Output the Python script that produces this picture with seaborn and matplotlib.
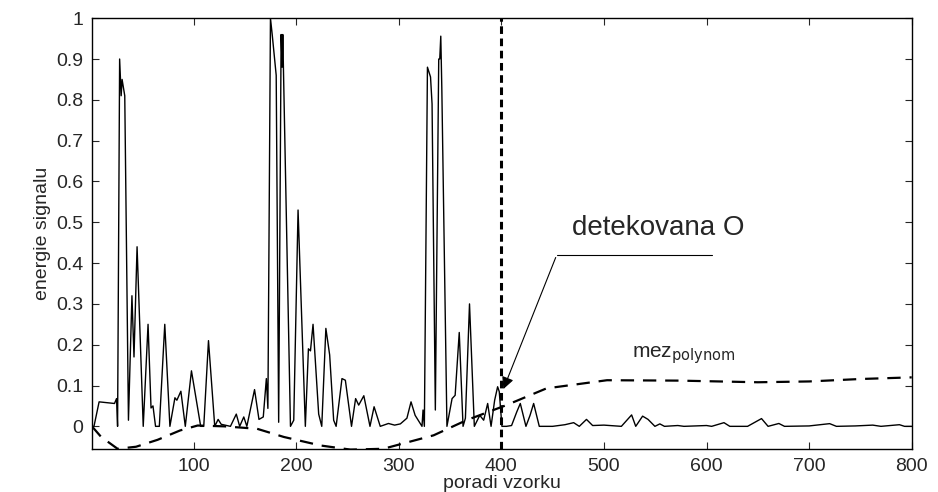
import numpy as np
import pandas as pd
import matplotlib
matplotlib.use("Agg")
import matplotlib.pyplot as plt
import seaborn as sns

# signal energy (sample index, value)
sig_x = [1, 3, 8, 23, 25, 26, 28, 29.5, 30.4, 33, 36.6, 40, 42, 45, 51, 55.7, 58.6, 60.5, 63, 66.7,
         72, 77, 81.9, 83.8, 87.7, 92, 98, 103, 107, 110, 114.6, 120.7, 124, 127, 136, 141.7, 145,
         149, 152, 159.5, 163.8, 168, 171, 172.5, 175, 176.7, 180.6, 183, 185.4, 186.4, 187, 191,
         194.5, 197.7, 201.9, 209, 212, 214, 216.5, 222, 225, 229, 232.7, 236.6, 239, 244.7, 248,
         254, 258, 261, 266, 272, 276, 282, 290, 296, 301.6, 308, 312, 316, 322.7, 323.7, 325, 328,
         331, 332.5, 335.7, 339, 340, 341, 342, 347, 352, 355, 359, 362.7, 365, 369, 373.7, 379,
         382.8, 386.7, 390, 393.5, 396.4, 398, 400.6, 405, 410, 415, 418.5, 424, 428, 431.5, 437,
         450, 462, 470.5, 476, 483, 489, 500, 517, 527, 531, 537.7, 543, 549.7, 554.5, 559, 572,
         578, 600, 605, 617, 622.7, 640, 653.6, 660, 670.5, 676, 700, 720, 726.6, 745, 762, 770,
         788, 793, 800]
sig_y = [0.0, 0.0, 0.06, 0.056, 0.068, 0.0, 0.9, 0.81, 0.85, 0.81, 0.015, 0.32, 0.17, 0.44, 0.0,
         0.25, 0.045, 0.05, 0.0, 0.0, 0.25, 0.0, 0.07, 0.064, 0.086, 0.0, 0.136, 0.06, 0.0, 0.0,
         0.21, 0.0, 0.017, 0.005, 0.0, 0.03, 0.0, 0.023, 0.0, 0.09, 0.017, 0.023, 0.117, 0.044,
         1.0, 0.96, 0.86, 0.01, 0.96, 0.88, 0.96, 0.45, 0.0, 0.015, 0.53, 0.0, 0.19, 0.185, 0.25,
         0.03, 0.0, 0.24, 0.175, 0.015, 0.0, 0.117, 0.113, 0.0, 0.068, 0.052, 0.075, 0.0, 0.048,
         0.0, 0.007, 0.003, 0.006, 0.02, 0.06, 0.027, 0.0, 0.04, 0.0, 0.88, 0.856, 0.79, 0.04,
         0.9, 0.9, 0.956, 0.83, 0.0, 0.068, 0.076, 0.23, 0.0, 0.02, 0.3, 0.0, 0.027, 0.015, 0.056,
         0.0, 0.064, 0.097, 0.085, 0.0, 0.0, 0.002, 0.035, 0.056, 0.0, 0.027, 0.056, 0.0, 0.0,
         0.004, 0.009, 0.0, 0.017, 0.002, 0.003, 0.0, 0.028, 0.0, 0.025, 0.017, 0.0, 0.006, 0.0,
         0.002, 0.0, 0.002, 0.0, 0.009, 0.0, 0.0, 0.019, 0.0, 0.007, 0.0, 0.001, 0.0066, 0.0,
         0.001, 0.003, 0.0, 0.004, 0.0, 0.0]

# polynomial threshold
mez_x = [1, 10, 26, 44, 65, 87, 104, 130, 162, 188, 224, 253, 285, 334, 366, 405, 444, 503, 574,
         650, 700, 750, 800]
mez_y = [0.0, -0.026, -0.055, -0.05, -0.033, -0.01, 0.002, 0.0, -0.006, -0.026, -0.047, -0.057,
         -0.055, -0.022, 0.015, 0.052, 0.093, 0.113, 0.112, 0.108, 0.11, 0.116, 0.12]

detect_x = 400
x_ticks = [100, 200, 300, 400, 500, 600, 700, 800]
y_ticks = [0, 0.1, 0.2, 0.3, 0.4, 0.5, 0.6, 0.7, 0.8, 0.9, 1]

sns.set_style("ticks")
plt.rcParams['font.family'] = ['Liberation Sans', 'DejaVu Sans']

fig = plt.figure(figsize=(9.38, 4.92), dpi=100)
ax = fig.add_axes([0.098, 0.087, 0.874, 0.876])

sig = pd.DataFrame({'x': sig_x, 'y': sig_y})
mez = pd.DataFrame({'x': mez_x, 'y': mez_y})
sns.lineplot(data=sig, x='x', y='y', ax=ax, color='black', linewidth=1.0)
sns.lineplot(data=mez, x='x', y='y', ax=ax, color='black', linewidth=1.6, linestyle=(0, (6, 4)))
ax.axvline(detect_x, color='black', linewidth=2.2, linestyle=(0, (2.5, 1.5)))

ax.set_xlim(1, 800)
ax.set_ylim(-0.056, 1)
ax.set_xticks(x_ticks)
ax.set_yticks(y_ticks)
ax.set_yticklabels([f"{v:g}" for v in y_ticks])
ax.tick_params(direction='in', top=True, right=True, labelsize=14, length=5, pad=6)
for s in ax.spines.values():
    s.set_linewidth(1.0)
    s.set_color('black')

ax.set_xlabel('poradi vzorku', fontsize=14, labelpad=0)
ax.set_ylabel('energie signalu', fontsize=14, labelpad=4)

ax.annotate('', xy=(401, 0.085), xytext=(454, 0.42),
            arrowprops=dict(arrowstyle='-|>', color='black', lw=0.8, mutation_scale=18))
ax.plot([454, 605], [0.42, 0.42], color='black', lw=0.8)
ax.text(469, 0.47, 'detekovana O', fontsize=20)
ax.text(527, 0.17, r'mez$_{\mathrm{polynom}}$', fontsize=15)

fig.savefig('out.png', dpi=100)
